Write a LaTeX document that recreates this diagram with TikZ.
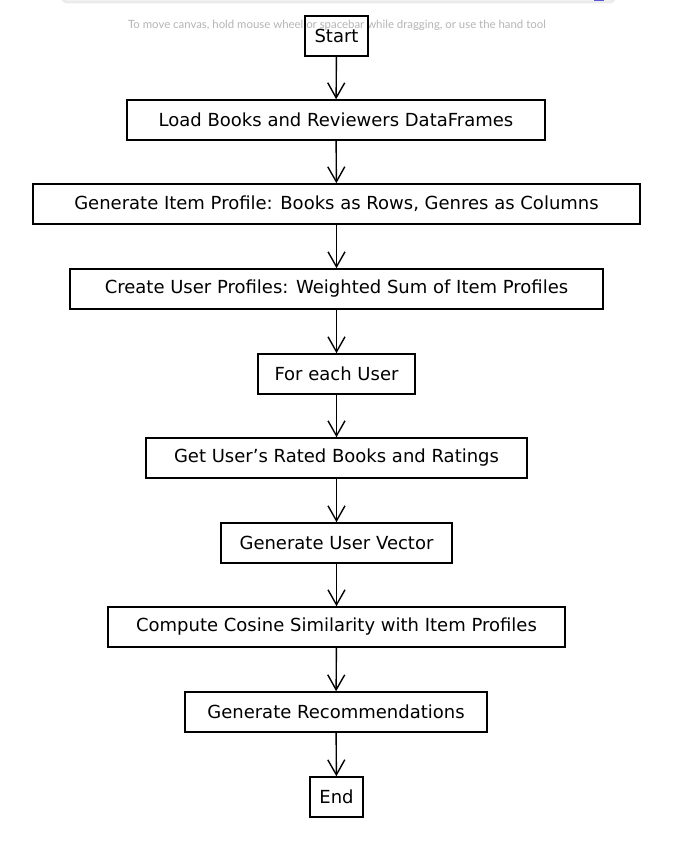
\documentclass[tikz,border=0pt]{standalone}
\usepackage{fontspec}
\setmainfont{DejaVu Sans}
\newfontfamily\hintfont{Lato}
\usetikzlibrary{arrows.meta}
\definecolor{hintgray}{HTML}{B4B4B4}
\definecolor{toolblue}{HTML}{5B57D1}

\begin{document}
\begin{tikzpicture}[x=1pt, y=-1pt,
	stepbox/.style={draw, line width=1.6pt, minimum height=40pt, inner sep=0pt, font=\fontsize{18}{21}\selectfont},
	flow/.style={-{Straight Barb[length=15pt,width=17pt]}, line width=1.4pt}]
		%%%%% START %%%%%
		\useasboundingbox (0, 0) rectangle (677, 850);
		
		% toolbar edge and hint
		\draw[black!8, line width=3pt, rounded corners=6pt] (62, -12) -- (62, 2) -- (615, 2) -- (615, -12);
		\fill[toolblue] (594, -2) rectangle (604, 1.5);
		\node[text=hintgray, font=\hintfont\fontsize{11.4}{13}\selectfont] (hint) at (337, 25) {To move canvas, hold mouse wheel or spacebar while dragging, or use the hand tool};
		
		\node[stepbox, minimum width=63pt] (start) at (336.5, 36) {Start};
		\node[stepbox, minimum width=418pt] (load) at (336, 120) {Load Books and Reviewers DataFrames};
		\node[stepbox, minimum width=607pt] (item) at (336.5, 204) {Generate Item Profile: Books as Rows, Genres as Columns};
		\node[stepbox, minimum width=533pt] (userprof) at (336.5, 289) {Create User Profiles: Weighted Sum of Item Profiles};
		\node[stepbox, minimum width=157pt] (foreach) at (336.5, 374) {For each User};
		\node[stepbox, minimum width=381pt] (rated) at (336.5, 458) {Get User's Rated Books and Ratings};
		\node[stepbox, minimum width=231pt] (vector) at (336.5, 543) {Generate User Vector};
		\node[stepbox, minimum width=457pt] (cosine) at (336.5, 627) {Compute Cosine Similarity with Item Profiles};
		\node[stepbox, minimum width=302pt] (recs) at (336, 712) {Generate Recommendations};
		\node[stepbox, minimum width=53pt] (end) at (336.5, 797) {End};
		
		\draw[flow] (start) -- (load);
		\draw[flow] (load) -- (item);
		\draw[flow] (item) -- (userprof);
		\draw[flow] (userprof) -- (foreach);
		\draw[flow] (foreach) -- (rated);
		\draw[flow] (rated) -- (vector);
		\draw[flow] (vector) -- (cosine);
		\draw[flow] (cosine) -- (recs);
		\draw[flow] (recs) -- (end);
		%%%%% END %%%%%
	\end{tikzpicture}
\end{document}
